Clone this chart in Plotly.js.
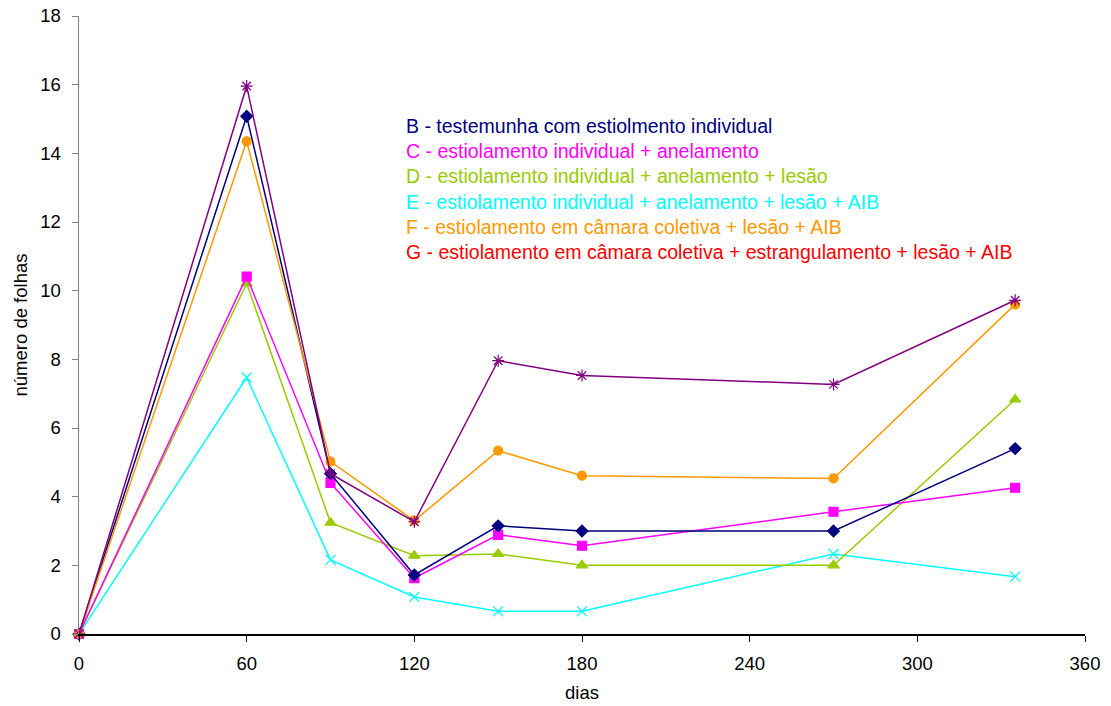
<!DOCTYPE html>
<html>
<head>
<meta charset="utf-8">
<script src="https://cdn.plot.ly/plotly-3.0.1.min.js"></script>
<style>html,body{margin:0;padding:0;background:#fff;}#chart{width:1111px;height:706px;}</style>
</head>
<body>
<div id="chart"></div>
<script>
const dias = [0, 60, 90, 120, 150, 180, 270, 335];
const serieB = [0, 15.08, 4.67, 1.72, 3.15, 3.0, 3.0, 5.4];
const serieC = [0, 10.41, 4.4, 1.63, 2.89, 2.57, 3.56, 4.26];
const serieD = [0, 10.21, 3.24, 2.28, 2.33, 2.0, 2.0, 6.83];
const serieE = [0, 7.47, 2.16, 1.08, 0.66, 0.66, 2.33, 1.67];
const serieF = [0, 14.35, 5.02, 3.3, 5.34, 4.61, 4.53, 9.6];
const serieG = [0, 15.96, 4.67, 3.27, 7.96, 7.53, 7.27, 9.72];
const legendTexts = [
  "B - testemunha com estiolmento individual",
  "C - estiolamento individual + anelamento",
  "D - estiolamento individual + anelamento + lesão",
  "E - estiolamento individual + anelamento + lesão + AIB",
  "F - estiolamento em câmara coletiva + lesão + AIB",
  "G - estiolamento em câmara coletiva + estrangulamento + lesão + AIB"
];
const legendColors = ["#000080", "#FF00FF", "#99CC00", "#00FFFF", "#FF9900", "#FF0000"];

function tr(y, color, symbol, size, lw) {
  return {
    x: dias, y: y, type: 'scatter', mode: 'lines+markers',
    line: {color: color, width: lw || 1.5},
    marker: {symbol: symbol, size: size, color: color, line: {color: color, width: 1.2}},
    cliponaxis: false, showlegend: false
  };
}
const data = [
  tr(serieE, "#00FFFF", "x-thin", 10, 1.5),
  tr(serieD, "#99CC00", "triangle-up", 10),
  tr(serieC, "#FF00FF", "square", 9),
  tr(serieB, "#000080", "diamond", 9),
  tr(serieF, "#FF9900", "circle", 9),
  tr(serieG, "#800080", "asterisk-open", 10)
];
const T = 16, B = 72, H = 706 - T - B;
const ann = legendTexts.map((t, i) => ({
  text: t, xref: 'paper', yref: 'paper', x: (404 - 79) / 1006, y: 1 - (126 + i * 25.2 - T) / H,
  xanchor: 'left', yanchor: 'middle', showarrow: false,
  font: {family: 'Liberation Sans, Arial, sans-serif', size: 19.5, color: legendColors[i]}
}));
const layout = {
  width: 1111, height: 706,
  margin: {l: 79, r: 26, t: T, b: B},
  paper_bgcolor: '#fff', plot_bgcolor: '#fff',
  font: {family: 'Liberation Sans, Arial, sans-serif', size: 18.5, color: '#000'},
  xaxis: {
    range: [0, 360], tickvals: [0, 60, 120, 180, 240, 300, 360],
    showgrid: false, zeroline: false, showline: true, linecolor: '#000', linewidth: 1.5,
    ticks: 'outside', ticklen: 6, tickcolor: '#000', ticklabelstandoff: 6,
    title: {text: 'dias', standoff: 13, font: {size: 18.5}}
  },
  yaxis: {
    range: [0, 18], dtick: 2,
    showgrid: false, zeroline: false, showline: true, linecolor: '#808080', linewidth: 1.5,
    ticks: 'outside', ticklen: 6, tickcolor: '#808080', ticklabelstandoff: 7,
    title: {text: 'número de folhas', standoff: 7, font: {size: 18.5}}
  },
  annotations: ann
};
Plotly.newPlot('chart', data, layout, {displayModeBar: false, staticPlot: true});
</script>
</body>
</html>
